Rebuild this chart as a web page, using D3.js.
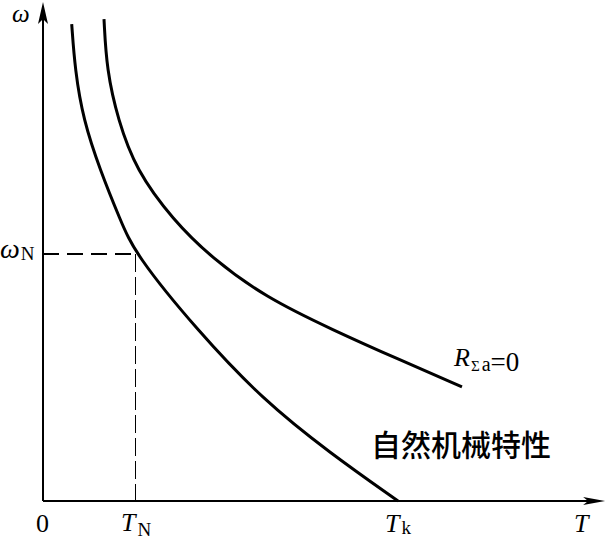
<!DOCTYPE html>
<html>
<head>
<meta charset="utf-8">
<script src="https://cdn.jsdelivr.net/npm/d3@7"></script>
<style>
  html, body { margin: 0; padding: 0; background: #fff; }
  svg { display: block; }
  .serif { font-family: "Liberation Serif", "DejaVu Serif", serif; }
</style>
</head>
<body>
<svg id="chart" width="607" height="540"></svg>
<script>
// ---- data (T in units of T_N, ω in units of ω_N) ----
const naturalT     = [0.312, 0.348, 0.438, 0.620, 0.840, 1.000, 1.674, 2.391, 3.120, 3.859];
const naturalOmega = [1.931, 1.745, 1.543, 1.340, 1.138, 1.000, 0.692, 0.409, 0.194, 0.000];
const zeroRT       = [0.663, 0.692, 0.815, 1.011, 1.413, 1.834, 2.413, 3.152, 3.880, 4.554];
const zeroROmega   = [1.951, 1.745, 1.543, 1.340, 1.138, 0.984, 0.826, 0.692, 0.571, 0.462];
const ratedPoint   = [1.0, 1.0];   // (T_N, ω_N)
const stallT       = 3.859;        // T_k
const axisMaxT     = 6.11;
const axisMaxOmega = 2.02;

const svg = d3.select("#chart");
const x = d3.scaleLinear().domain([0, 1]).range([43, 135]);
const y = d3.scaleLinear().domain([0, 1]).range([501, 254]);

// axes
svg.append("line").attr("x1", x(0)).attr("y1", y(0)).attr("x2", x(axisMaxT) - 6).attr("y2", y(0))
  .attr("stroke", "#000").attr("stroke-width", 2);
svg.append("line").attr("x1", x(0)).attr("y1", y(0)).attr("x2", x(0)).attr("y2", y(axisMaxOmega) + 6)
  .attr("stroke", "#000").attr("stroke-width", 2);
// arrowheads
const xe = x(axisMaxT), ye = y(axisMaxOmega);
svg.append("path").attr("d", `M${xe},${y(0)} L${xe - 22},${y(0) - 4} L${xe - 17},${y(0)} L${xe - 22},${y(0) + 4} Z`).attr("fill", "#000");
svg.append("path").attr("d", `M${x(0)},${ye} L${x(0) - 5},${ye + 22} L${x(0)},${ye + 17} L${x(0) + 5},${ye + 22} Z`).attr("fill", "#000");

// dashed guides
svg.append("line").attr("x1", x(0)).attr("y1", y(ratedPoint[1])).attr("x2", x(ratedPoint[0])).attr("y2", y(ratedPoint[1]))
  .attr("stroke", "#000").attr("stroke-width", 2).attr("stroke-dasharray", "16,8");
svg.append("line").attr("x1", x(ratedPoint[0]) + 0.5).attr("y1", y(ratedPoint[1])).attr("x2", x(ratedPoint[0]) + 0.5).attr("y2", y(0))
  .attr("stroke", "#000").attr("stroke-width", 1).attr("stroke-dasharray", "18,5");

// curves
const line = d3.line().x(d => x(d[0])).y(d => y(d[1])).curve(d3.curveBasis);
svg.append("path").datum(naturalT.map((t, i) => [t, naturalOmega[i]]))
  .attr("d", line).attr("fill", "none").attr("stroke", "#000").attr("stroke-width", 3);
svg.append("path").datum(zeroRT.map((t, i) => [t, zeroROmega[i]]))
  .attr("d", line).attr("fill", "none").attr("stroke", "#000").attr("stroke-width", 3);

// labels
function label(xp, yp, parts) {
  const t = svg.append("text").attr("class", "serif").attr("x", xp).attr("y", yp);
  parts.forEach(p => {
    const s = t.append("tspan").text(p.text).attr("font-size", p.size)
      .attr("font-style", p.italic ? "italic" : "normal");
    if (p.dy) s.attr("dy", p.dy);
    if (p.dx) s.attr("dx", p.dx);
  });
  return t;
}
label(12, 22, [{text: "ω", size: 25, italic: true}]);
label(0, 258, [{text: "ω", size: 28, italic: true}, {text: "N", size: 19, dy: 2, dx: 1}]);
label(36, 532, [{text: "0", size: 26}]);
label(x(ratedPoint[0]) - 14, 531, [{text: "T", size: 26, italic: true}, {text: "N", size: 19, dy: 5, dx: 2}]);
label(x(stallT) - 13, 532, [{text: "T", size: 26, italic: true}, {text: "k", size: 19, dy: 2, dx: 2}]);
label(574, 532, [{text: "T", size: 26, italic: true}]);
label(454, 366, [{text: "R", size: 26, italic: true}, {text: "Σ", size: 15, dy: 5, dx: 1}, {text: "a", size: 20, dx: 2}, {text: "=0", size: 27, dy: 0}]);

svg.append("text").attr("x", 371).attr("y", 456)
  .attr("font-family", "'Noto Sans CJK SC', sans-serif").attr("font-size", 30).attr("font-weight", 500)
  .text("自然机械特性");
</script>
</body>
</html>
